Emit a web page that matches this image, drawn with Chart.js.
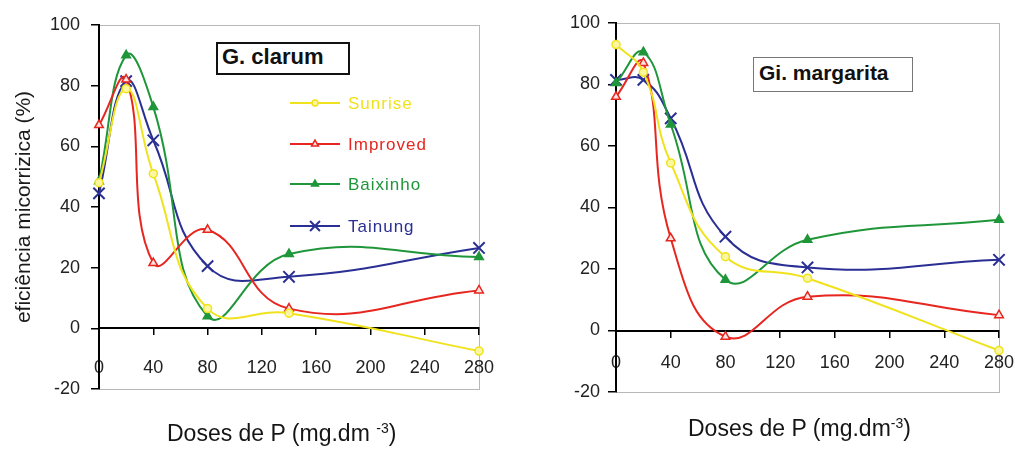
<!DOCTYPE html>
<html>
<head>
<meta charset="utf-8">
<script src="https://cdn.jsdelivr.net/npm/chart.js@4.4.1/dist/chart.umd.min.js"></script>
<style>
  html, body { margin: 0; padding: 0; background: #fff; }
  body { width: 1015px; height: 451px; position: relative; overflow: hidden; font-family: "Liberation Sans", Arial, sans-serif; color: #111; }
  .panel { position: absolute; top: 0; height: 451px; }
  #leftPanel { left: 0; width: 507px; }
  #rightPanel { left: 507px; width: 508px; }
  .tag { position: absolute; box-sizing: border-box; font-weight: bold; background: #fff; display: flex; align-items: center; white-space: nowrap; }
  .xtitle { position: absolute; font-size: 23px; line-height: 1; white-space: nowrap; color: #151515; }
  .xtitle sup { font-size: 14px; vertical-align: 0.55em; line-height: 0; }
</style>
</head>
<body>
<div class="panel" id="leftPanel"><canvas id="clarum"></canvas></div>
<div class="panel" id="rightPanel"><canvas id="margarita"></canvas></div>

<div class="tag" style="left:216px;top:42px;width:134px;height:33px;border:2px solid #111;font-size:22px;padding:0 0 3px 4px;">G. clarum</div>
<div class="tag" style="left:753px;top:57px;width:160px;height:35px;border:1px solid #777;font-size:21px;padding:0 0 3px 5px;">Gi. margarita</div>

<div class="xtitle" style="left:167px;top:422px;">Doses de P (mg.dm <sup>-3</sup>)</div>
<div class="xtitle" style="left:688px;top:417px;">Doses de P (mg.dm<sup>-3</sup>)</div>

<script>
// doses of P (mg.dm-3) on the x axis
const doses = [0, 20, 40, 80, 140, 280];
const xTicks = [0, 40, 80, 120, 160, 200, 240, 280];
const yTicks = [-20, 0, 20, 40, 60, 80, 100];
const cultivars = ['Sunrise', 'Improved', 'Baixinho', 'Tainung'];

// G. clarum
const clarumSunrise  = [48, 79, 51, 6.5, 5, -7.5];
const clarumImproved = [67, 82, 21.5, 32.5, 6.5, 12.5];
const clarumBaixinho = [48.5, 90, 73, 4, 24.5, 23.5];
const clarumTainung  = [44.5, 81.5, 62, 20.5, 17, 26.5];

// Gi. margarita
const margSunrise  = [93, 84, 54.5, 24, 17, -6.5];
const margImproved = [76, 87, 30, -2, 11, 5];
const margBaixinho = [80.5, 90.5, 67, 16.5, 29.5, 36];
const margTainung  = [81.5, 81.5, 69, 30.5, 20.5, 23];

const looks = [
  { color: '#f0e21c', fill: '#fbf6a0', style: 'circle',   radius: 4, bw: 1.5 },
  { color: '#e6261f', fill: '#fbe3e0', style: 'triangle', radius: 5, bw: 1.5 },
  { color: '#1f963a', fill: '#1f963a', style: 'triangle', radius: 5, bw: 1.5 },
  { color: '#2a2f94', fill: '#2a2f94', style: 'crossRot', radius: 8, bw: 2 }
];

const FONT = '"Liberation Sans", Arial, sans-serif';
const tickFont = { family: FONT, size: 18 };

// light grey box round the plot area, drawn under the axes
const frame = {
  id: 'frame',
  beforeDraw(chart) {
    const { ctx, chartArea: a } = chart;
    ctx.save();
    ctx.strokeStyle = '#b8b8b8';
    ctx.lineWidth = 1;
    ctx.strokeRect(Math.round(a.left) + 0.5, Math.round(a.top) + 0.5, Math.round(a.width), Math.round(a.height));
    ctx.restore();
  }
};

// legend sitting inside the left plot
const keyRows = [103, 144, 184, 226];
const keyBox = {
  id: 'keyBox',
  afterDatasetsDraw(chart) {
    const ctx = chart.ctx;
    chart.data.datasets.forEach((ds, i) => {
      const y = keyRows[i];
      ctx.save();
      ctx.strokeStyle = ds.borderColor;
      ctx.lineWidth = 2;
      ctx.beginPath();
      ctx.moveTo(290, y);
      ctx.lineTo(340, y);
      ctx.stroke();
      ctx.fillStyle = ds.backgroundColor;
      ctx.lineWidth = ds.pointBorderWidth;
      Chart.helpers.drawPoint(ctx, {
        pointStyle: ds.pointStyle, radius: ds.pointRadius - 1, rotation: 0, borderWidth: ds.pointBorderWidth
      }, 315, y);
      ctx.fillStyle = ds.borderColor;
      ctx.font = '17px ' + FONT;
      ctx.letterSpacing = '1px';
      ctx.textBaseline = 'middle';
      ctx.fillText(ds.label, 348, y + 1);
      ctx.restore();
    });
  }
};

function build(id, values, o) {
  return new Chart(document.getElementById(id), {
    type: 'line',
    data: {
      datasets: cultivars.map((name, i) => ({
        label: name,
        data: doses.map((d, j) => ({ x: d, y: values[i][j] })),
        borderColor: looks[i].color,
        backgroundColor: looks[i].fill,
        pointStyle: looks[i].style,
        pointRadius: looks[i].radius,
        pointBorderWidth: looks[i].bw,
        borderWidth: 2,
        tension: 0.45,
        fill: false,
        clip: 12
      }))
    },
    options: {
      responsive: true,
      maintainAspectRatio: false,
      animation: false,
      layout: { padding: o.padding },
      plugins: { legend: { display: false }, tooltip: { enabled: false } },
      scales: {
        x: {
          type: 'linear',
          position: { y: 0 },
          min: 0,
          max: 280,
          afterBuildTicks: s => { s.ticks = xTicks.map(v => ({ value: v })); },
          afterFit: s => { s.paddingLeft = 0; s.paddingRight = 0; },
          grid: { drawOnChartArea: false, tickLength: 6, color: '#000', lineWidth: 1.5 },
          border: { color: '#000', width: 2 },
          ticks: { padding: o.xPad, font: tickFont, color: '#222', maxRotation: 0 }
        },
        y: {
          min: -20,
          max: 100,
          afterBuildTicks: s => { s.ticks = yTicks.map(v => ({ value: v })); },
          afterFit: s => { s.width = o.yWidth; s.paddingTop = 0; s.paddingBottom = 0; },
          grid: { drawOnChartArea: false, tickLength: 8, color: '#000', lineWidth: 1.5 },
          border: { color: '#000', width: 2 },
          ticks: { padding: o.yPad, font: tickFont, color: '#222' },
          title: o.yTitle || { display: false }
        }
      }
    },
    plugins: o.keys ? [frame, keyBox] : [frame]
  });
}

build('clarum', [clarumSunrise, clarumImproved, clarumBaixinho, clarumTainung], {
  padding: { top: 25, bottom: 62, left: 0, right: 28 },
  yWidth: 99,
  xPad: 23,
  yPad: 11,
  keys: true,
  yTitle: {
    display: true,
    text: 'eficiência micorrizica (%)',
    color: '#1a1a1a',
    font: { family: FONT, size: 21 },
    padding: { top: 12, bottom: 0 }
  }
});

build('margarita', [margSunrise, margImproved, margBaixinho, margTainung], {
  padding: { top: 23, bottom: 59, left: 0, right: 16 },
  yWidth: 109,
  xPad: 16,
  yPad: 8
});
</script>
</body>
</html>
